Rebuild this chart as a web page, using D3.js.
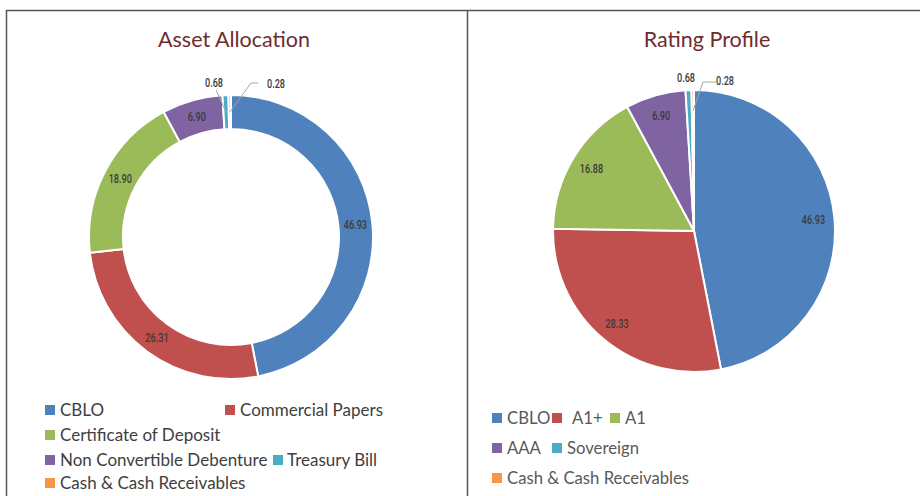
<!DOCTYPE html>
<html>
<head>
<meta charset="utf-8">
<script src="https://cdn.jsdelivr.net/npm/d3@7"></script>
<style>
	body{margin:0;background:#fff;}
	svg{display:block;}
	.title{font-family:Lato,"Noto Sans",sans-serif;font-size:21.5px;fill:#6e2c2f;text-anchor:middle;}
	.val{font-family:Roboto,"DejaVu Sans Condensed",sans-serif;font-size:12.5px;font-weight:500;fill:#3b3b3b;text-anchor:middle;}
	.leg-l{font-family:Lato,"Open Sans",sans-serif;font-size:17px;fill:#404040;}
	.leg-r{font-family:Lato,"Noto Sans",sans-serif;font-size:16.7px;fill:#595959;}
</style>
</head>
<body>
<div id="chart"></div>
<script>
//Data
const assetCategories = ['CBLO','Commercial Papers','Certificate of Deposit','Non Convertible Debenture','Treasury Bill','Cash & Cash Receivables'];
const assetValues = [46.93, 26.31, 18.90, 6.90, 0.68, 0.28];

const ratingCategories = ['CBLO','A1+','A1','AAA','Sovereign','Cash & Cash Receivables'];
const ratingValues = [46.93, 28.33, 16.88, 6.90, 0.68, 0.28];

const colors = ['#4f81bd','#c0504d','#9bbb59','#8064a2','#4bacc6','#f79646'];

const width = 920, height = 496;

const svg = d3.select('#chart').append('svg')
	.attr('width',width)
	.attr('height',height);

//frame
const frame = svg.append('g')
	.attr('fill','none')
	.attr('stroke','#555')
	.attr('stroke-width',1.5);
frame.append('path').attr('d','M6.5,497 V10.5 H921');
frame.append('line').attr('x1',467.5).attr('x2',467.5).attr('y1',10.5).attr('y2',497);

const pie = d3.pie().sort(null).value(d => d.value);

function drawPie(opts){
	const data = opts.categories.map((c,i) => ({name:c, value:opts.values[i], color:colors[i]}));
	const arcs = pie(data);

	const g = svg.append('g')
		.attr('transform',`translate(${opts.cx},${opts.cy})`);

	const arc = d3.arc().innerRadius(opts.inner).outerRadius(opts.outer);
	const labelArc = d3.arc().innerRadius(opts.labelR).outerRadius(opts.labelR);

	g.selectAll('.slice')
		.data(arcs)
		.enter()
		.append('path')
		.attr('class','slice')
		.attr('d',arc)
		.attr('fill',d => d.data.color)
		.attr('stroke','#fff')
		.attr('stroke-width',2)
		.attr('stroke-linejoin','round');

	//labels: big slices at the centroid, small ones pulled outside
	arcs.forEach((d,i) => {
		const off = opts.outside[i];
		let x, y;
		if(off){
			x = off.x; y = off.y;
			if(off.line){
				const end = labelArc.centroid(d);
				g.append('polyline')
					.attr('points',[ [x+off.line[0][0], y+off.line[0][1]], [x+off.line[1][0], y+off.line[1][1]], end ].map(p => p.join(',')).join(' '))
					.attr('fill','none')
					.attr('stroke','#a6a6a6')
					.attr('stroke-width',1);
			}
		} else {
			[x,y] = labelArc.centroid(d);
		}
		//condensed look: squeeze the glyphs horizontally
		g.append('text')
			.attr('class','val')
			.attr('transform',`translate(${x},${y}) scale(0.73,1)`)
			.attr('dy','0.36em')
			.text(d3.format('.2f')(d.data.value));
	});

	svg.append('text')
		.attr('class','title')
		.attr('x',opts.titleX)
		.attr('y',47)
		.text(opts.title);

	//legend
	const leg = svg.append('g');
	opts.legendPos.forEach((p,i) => {
		leg.append('rect')
			.attr('x',p[0])
			.attr('y',p[1]-5)
			.attr('width',10)
			.attr('height',10)
			.attr('fill',colors[i]);
		leg.append('text')
			.attr('class',opts.legendClass)
			.attr('x',p[0]+p[2])
			.attr('y',p[1])
			.attr('dy','0.35em')
			.text(opts.categories[i]);
	});
}

drawPie({
	title:'Asset Allocation',
	titleX:234,
	categories:assetCategories,
	values:assetValues,
	cx:231, cy:237, inner:108, outer:142, labelR:125,
	outside:[null,null,null,null,
		{x:-17, y:-155, line:[[2,8],[2,8]]},
		{x:45, y:-154, line:[[-18,0],[-25,0]]}],
	legendClass:'leg-l',
	legendPos:[[45,410,15],[225,410,15],[45,435,15],[45,460,15],[273,460,14],[45,483,15]]
});

drawPie({
	title:'Rating Profile',
	titleX:707,
	categories:ratingCategories,
	values:ratingValues,
	cx:694, cy:231, inner:0, outer:141, labelR:120,
	outside:[null,null,null,null,
		{x:-8, y:-154},
		{x:31, y:-151, line:[[-9,2],[-22,2]]}],
	legendClass:'leg-r',
	legendPos:[[492,418,15],[552,418,20],[610,418,15],[492,448,15],[552,448,15],[492,478,15]]
});
</script>
</body>
</html>
